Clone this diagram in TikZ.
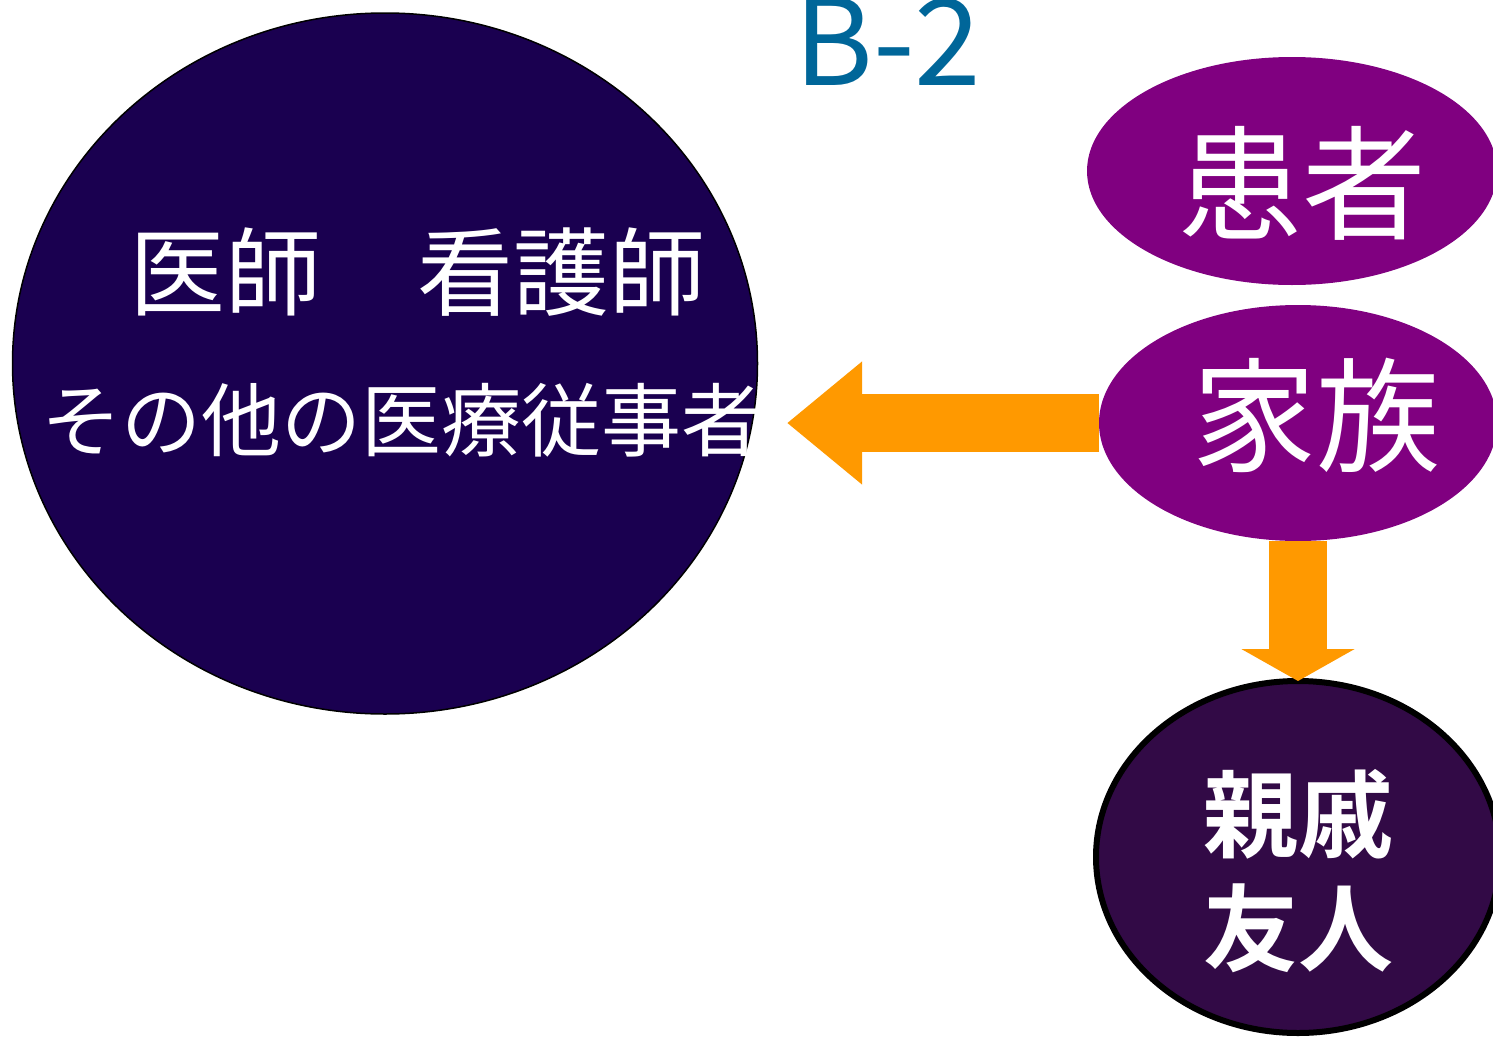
\documentclass[tikz,border=0pt]{standalone}
\usepackage{fontspec}
\setmainfont{Noto Sans CJK JP}
\newfontfamily\jpbold{Noto Sans CJK JP Bold}
\usetikzlibrary{shapes.geometric,arrows.meta}
\definecolor{navyfill}{HTML}{1A0050}
\definecolor{purp}{HTML}{800080}
\definecolor{darkpurp}{HTML}{320A46}
\definecolor{orng}{HTML}{FF9900}
\definecolor{titleblue}{HTML}{006699}
\tikzset{
  oval/.style={ellipse, inner sep=0pt, outer sep=0pt},
  staffoval/.style={oval, fill=navyfill, draw=black, line width=1.5pt},
  familyoval/.style={oval, fill=purp},
  friendoval/.style={oval, fill=darkpurp, draw=black, line width=6pt},
  lbl/.style={text=white, inner sep=0pt, align=center},
  bigarrow/.style={draw=orng, line width=58pt, -{Triangle[length=75pt,width=118pt]}},
  downarrow/.style={draw=orng, line width=58pt, -{Triangle[length=32pt,width=112pt]}}
}
\begin{document}
\begin{tikzpicture}[x=1pt,y=-1pt]
\useasboundingbox (0,0) rectangle (1493,1036);
\clip (0,0) rectangle (1493,1036);
% title
\node[text=titleblue, inner sep=0pt, font=\fontsize{120}{120}\selectfont] (title) at (888,42) {B-2};
% ellipses
\node[staffoval, minimum width=745pt, minimum height=701pt] (staff) at (385,363.5) {};
\node[familyoval, minimum width=410pt, minimum height=228pt] (patient) at (1292,171) {};
\node[familyoval, minimum width=398pt, minimum height=236pt] (family) at (1298,423) {};
\node[friendoval, minimum width=404pt, minimum height=352pt] (friends) at (1298,857) {};
% texts
\node[lbl, font=\fontsize{96}{96}\selectfont] (t1) at (417,272) {医師　看護師};
\node[lbl, font=\fontsize{80}{80}\selectfont] (t2) at (401,420) {その他の医療従事者};
\node[lbl, font=\fontsize{124}{124}\selectfont] (t3) at (1302,183) {患者};
\node[lbl, font=\fontsize{124}{124}\selectfont] (t4) at (1316,415) {家族};
\node[lbl, font=\jpbold\fontsize{95}{114}\selectfont] (t5) at (1298,871) {親戚\\友人};
% arrows
\coordinate (tipL) at (787,423);
\draw[bigarrow] (family.west) -- (tipL);
\draw[downarrow] (family.south) -- (friends.north);
\end{tikzpicture}
\end{document}
